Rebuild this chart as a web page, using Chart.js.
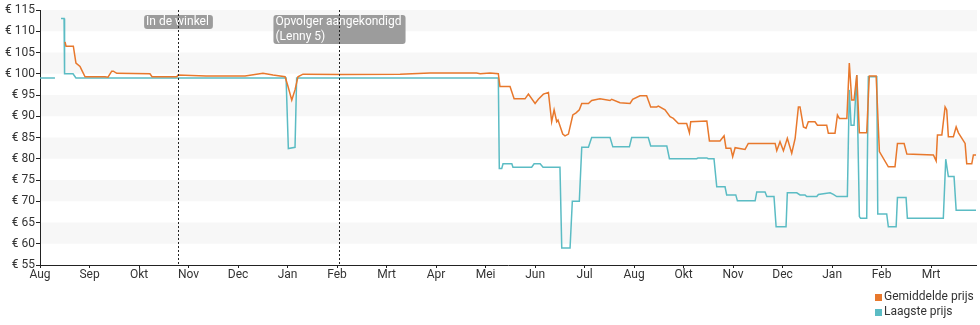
<!DOCTYPE html>
<html>
<head>
<meta charset="utf-8">
<title>Prijsverloop</title>
<script src="https://cdn.jsdelivr.net/npm/chart.js@4.4.1/dist/chart.umd.min.js"></script>
<style>
  html, body { margin: 0; padding: 0; background: #fff; }
  #wrap { width: 980px; height: 325px; position: relative; }
</style>
</head>
<body>
<div id="wrap"><canvas id="priceChart"></canvas></div>
<script>
/* ================= DATA ================= */

// x = days since 1 Aug, ticks every average month
const MONTH = 30.44;
const monthLabels = ["Aug", "Sep", "Okt", "Nov", "Dec", "Jan", "Feb", "Mrt", "Apr", "Mei",
                     "Jun", "Jul", "Aug", "Okt", "Nov", "Dec", "Jan", "Feb", "Mrt"];
const priceMin = 55;
const priceMax = 115;
const dayMax = 575.5;

const seriesNames = ["Gemiddelde prijs", "Laagste prijs"];
const seriesColors = ["#e8782c", "#5bbcc4"];

const avgDays = [15.4, 16.0, 20.5, 22.1, 24.6, 25.6, 27.7, 40.0, 41.8, 44.1, 45.1, 47.2, 67.6, 68.9,
  84.1, 84.9, 102.1, 126.1, 137.1, 143.3, 150.7, 152.5, 154.8, 156.8, 158.6, 161.7, 184.5, 221.4,
  239.8, 268.5, 270.6, 276.7, 281.8, 282.8, 289.0, 291.5, 298.2, 300.3, 304.4, 306.4, 309.5, 312.6,
  314.6, 316.1, 317.7, 318.5, 321.4, 322.8, 324.9, 327.6, 329.6, 331.6, 333.1, 337.2, 339.2, 344.3,
  350.5, 351.5, 356.6, 362.8, 364.4, 368.9, 373.0, 375.5, 379.2, 380.2, 384.3, 387.4, 389.4, 392.5,
  397.6, 399.3, 400.1, 410.0, 411.6, 418.1, 420.6, 421.8, 424.7, 425.9, 427.4, 433.5, 435.5, 452.0,
  453.0, 455.0, 457.1, 459.5, 462.2, 464.3, 466.3, 467.3, 469.4, 471.0, 472.4, 476.5, 478.0, 483.7,
  484.7, 488.8, 490.3, 491.5, 496.1, 497.6, 499.1, 500.5, 502.2, 503.8, 508.3, 509.9, 514.1, 516.1,
  521.6, 525.7, 527.2, 531.3, 533.0, 549.3, 551.0, 551.8, 554.5, 556.5, 557.5, 558.5, 561.6, 563.3,
  564.7, 568.8, 569.8, 572.9, 573.9, 575.5];
const avgPrices = [107.5, 106.5, 106.5, 102.5, 101.7, 100.9, 99.3, 99.3, 99.2, 100.6, 100.6, 100.1, 100.0, 99.3,
  99.3, 99.7, 99.5, 99.5, 100.1, 99.7, 99.3, 97.0, 93.8, 96.2, 99.3, 99.9, 99.8, 99.9,
  100.2, 100.2, 100.0, 100.2, 100.0, 97.0, 97.0, 94.1, 94.1, 95.2, 93.0, 94.0, 95.2, 95.6,
  88.7, 91.5, 88.7, 89.1, 85.8, 85.4, 85.8, 90.3, 90.8, 91.5, 93.0, 93.0, 93.7, 94.1,
  93.7, 94.0, 93.2, 93.0, 94.0, 94.8, 94.8, 92.2, 92.2, 92.4, 91.5, 89.9, 89.5, 88.3,
  88.3, 86.1, 88.7, 88.9, 84.2, 84.2, 85.4, 82.5, 82.5, 80.5, 82.6, 82.2, 83.6, 83.6,
  81.9, 84.0, 81.9, 84.8, 81.3, 84.8, 92.2, 92.2, 87.5, 87.2, 88.7, 88.7, 87.9, 87.9,
  86.0, 86.0, 90.3, 89.5, 89.5, 102.5, 93.8, 93.8, 99.7, 86.1, 86.1, 99.5, 99.5, 81.7,
  78.1, 78.1, 83.6, 83.6, 81.1, 80.9, 79.5, 85.6, 85.6, 92.2, 91.5, 85.2, 85.2, 87.5,
  86.1, 83.6, 78.8, 78.8, 80.9, 80.9];

const lowDays = [0, 9.2, 9.5, 12.9, 14.8, 15.1, 20.3, 22.1, 151.3, 152.7, 156.8, 157.8, 281.8, 282.4,
  283.9, 284.7, 290.1, 290.8, 302.3, 303.8, 307.5, 309.3, 319.7, 320.8, 325.9, 327.3, 331.6, 333.1,
  337.2, 339.2, 350.5, 352.2, 362.4, 363.8, 374.0, 375.5, 385.4, 387.0, 403.8, 404.6, 410.0, 410.8,
  414.4, 416.1, 421.2, 422.2, 427.8, 428.8, 439.7, 440.7, 445.8, 446.9, 451.3, 452.6, 458.7, 459.5,
  465.3, 467.3, 470.4, 471.4, 477.6, 478.6, 485.8, 487.8, 489.9, 496.4, 497.6, 498.7, 500.5, 502.2,
  503.8, 504.5, 508.3, 509.3, 514.5, 515.1, 520.6, 521.6, 526.4, 527.2, 532.5, 533.3, 555.4, 556.9,
  558.5, 562.0, 563.3, 576.0];
const lowPrices = [99, 99, null, 113, 113, 100, 100, 99, 99, 82.4, 82.7, 99, 99, 77.7,
  77.7, 78.8, 78.8, 78.0, 78.0, 78.8, 78.8, 78.0, 78.0, 59.0, 59.0, 70.0, 70.0, 82.7,
  82.7, 85.0, 85.0, 82.8, 82.8, 85.0, 85.0, 83.0, 83.0, 80.0, 80.0, 80.2, 80.2, 80.0,
  80.0, 73.4, 73.4, 71.5, 71.5, 70.1, 70.1, 72.2, 72.2, 71.1, 71.1, 64.0, 64.0, 72.0,
  72.0, 71.5, 71.5, 71.1, 71.1, 71.6, 72.0, 71.6, 71.1, 71.1, 96.2, 87.9, 87.9, 99.7,
  66.4, 66.0, 66.0, 99.3, 99.3, 67.0, 67.0, 64.0, 64.0, 70.9, 70.9, 66.0, 66.0, 79.9,
  75.8, 75.8, 67.9, 67.9];

// release events shown as dotted markers
const eventDays = [84.7, 183.9];
const eventLabels = [["In de winkel"], ["Opvolger aangekondigd", "(Lenny 5)"]];

/* ================= PLUGINS ================= */

const toPoints = (xs, ys) => xs.map((x, i) => ({ x, y: ys[i] }));

// alternating grey bands behind the lines
const bandPlugin = {
    id: "bands",
    beforeDatasetsDraw(chart) {
        const { ctx, chartArea, scales } = chart;
        ctx.save();
        ctx.fillStyle = "#f7f7f7";
        for (let v = priceMin; v < priceMax; v += 5) {
            if (v % 10 !== 0) continue;
            const top = scales.y.getPixelForValue(v + 5);
            const bottom = scales.y.getPixelForValue(v);
            ctx.fillRect(chartArea.left + 1, top, chartArea.right - chartArea.left, bottom - top);
        }
        ctx.restore();
    }
};

const eventPlugin = {
    id: "events",
    afterDatasetsDraw(chart) {
        const { ctx, chartArea, scales } = chart;
        ctx.save();
        ctx.font = "12px Roboto";
        eventDays.forEach((day, i) => {
            const x = Math.round(scales.x.getPixelForValue(day)) + 0.5;
            const lines = eventLabels[i];
            const w = Math.max(...lines.map(l => ctx.measureText(l).width)) + 6;
            const h = lines.length * 15 - 1;
            const left = x - w / 2;
            const top = chartArea.top + 5;

            ctx.fillStyle = "#9c9c9c";
            ctx.beginPath();
            ctx.roundRect(left, top, w, h, 3);
            ctx.fill();

            ctx.fillStyle = "#fff";
            ctx.textBaseline = "middle";
            ctx.textAlign = "left";
            lines.forEach((l, j) => ctx.fillText(l, left + 2, top + 7 + j * 15));

            ctx.strokeStyle = "#222";
            ctx.lineWidth = 1;
            ctx.setLineDash([2, 2]);
            ctx.beginPath();
            ctx.moveTo(x, chartArea.top);
            ctx.lineTo(x, chartArea.bottom);
            ctx.stroke();
            ctx.setLineDash([]);
        });
        ctx.restore();
    }
};

// stacked legend at the bottom right
const legendPlugin = {
    id: "stackedLegend",
    afterDraw(chart) {
        const { ctx } = chart;
        ctx.save();
        ctx.font = "12px Roboto";
        ctx.textBaseline = "middle";
        ctx.textAlign = "left";
        seriesNames.forEach((name, i) => {
            const y = 297 + i * 15;
            ctx.fillStyle = seriesColors[i];
            ctx.fillRect(875, y - 3, 7, 7);
            ctx.fillStyle = "#333";
            ctx.fillText(name, 884, y);
        });
        ctx.restore();
    }
};

/* ================= CHART ================= */

Chart.defaults.font.family = "Roboto";
Chart.defaults.font.size = 12;
Chart.defaults.color = "#333";

new Chart(document.getElementById("priceChart"), {
    type: "line",
    data: {
        datasets: [
            {
                label: seriesNames[0],
                data: toPoints(avgDays, avgPrices),
                borderColor: seriesColors[0],
                borderWidth: 1.5
            },
            {
                label: seriesNames[1],
                data: toPoints(lowDays, lowPrices),
                borderColor: seriesColors[1],
                borderWidth: 1.5
            }
        ]
    },
    options: {
        responsive: true,
        maintainAspectRatio: false,
        animation: false,
        spanGaps: false,
        elements: { point: { radius: 0 }, line: { tension: 0 } },
        layout: { padding: { top: 10, right: 4, bottom: 40, left: 0 } },
        plugins: { legend: { display: false }, tooltip: { enabled: false } },
        scales: {
            x: {
                type: "linear",
                min: 0,
                max: dayMax,
                afterBuildTicks: axis => {
                    axis.ticks = monthLabels.map((_, i) => ({ value: i * MONTH }));
                },
                afterFit: axis => { axis.height = 20; },
                ticks: {
                    autoSkip: false,
                    maxRotation: 0,
                    padding: 0,
                    callback: (v, i) => monthLabels[i]
                },
                grid: { drawOnChartArea: false, tickLength: 3, tickColor: "#222" },
                border: { color: "#222" }
            },
            y: {
                min: priceMin,
                max: priceMax,
                afterFit: axis => { axis.width = 40; },
                ticks: {
                    stepSize: 5,
                    padding: 1,
                    callback: v => "€ " + v
                },
                grid: { drawOnChartArea: false, tickLength: 4, tickColor: "#222" },
                border: { color: "#222" }
            }
        }
    },
    plugins: [bandPlugin, eventPlugin, legendPlugin]
});
</script>
</body>
</html>
